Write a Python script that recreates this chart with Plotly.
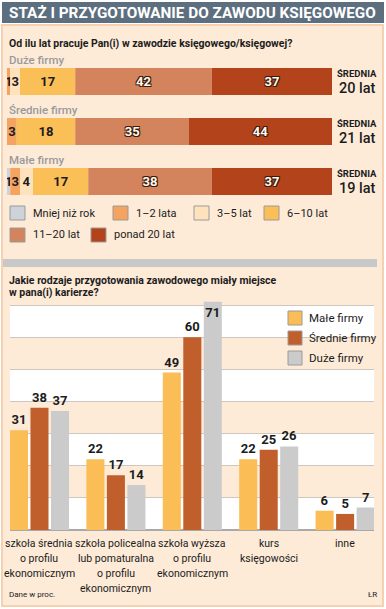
import plotly.graph_objects as go

W, H = 386, 609

# ---------------- data: top chart (stacked shares, %)
firm_rows = ["Duże firmy", "Średnie firmy", "Małe firmy"]
tenure_cats = ["Mniej niż rok", "1–2 lata", "3–5 lat", "6–10 lat", "11–20 lat", "ponad 20 lat"]
tenure_duze = [0, 1, 3, 17, 42, 37]
tenure_srednie = [0, 3, 0, 18, 35, 44]
tenure_male = [1, 3, 4, 17, 38, 37]
avg_years = [20, 21, 19]

# ---------------- data: bottom chart (%)
prep_cats = [
    "szkoła średnia<br>o profilu<br>ekonomicznym",
    "szkoła policealna<br>lub pomaturalna<br>o profilu<br>ekonomicznym",
    "szkoła wyższa<br>o profilu<br>ekonomicznym",
    "kurs<br>księgowości",
    "inne",
]
prep_series = ["Małe firmy", "Średnie firmy", "Duże firmy"]
prep_male = [31, 22, 49, 22, 6]
prep_srednie = [38, 17, 60, 25, 5]
prep_duze = [37, 14, 71, 26, 7]

# ---------------- styles
FONT = "Roboto, Liberation Sans, sans-serif"
tenure_colors = ["#cdd3d9", "#f5a360", "#fee2bd", "#fbbf58", "#d3845c", "#b3431a"]
tenure_text_dark = [True, True, True, True, False, False]
prep_colors = ["#fbbd55", "#c15f2c", "#cbcbcb"]
DARK = "#1c1c1c"
OUTLINE = "1px 1px 0 #3a1a0a, -1px -1px 0 #3a1a0a, 1px -1px 0 #3a1a0a, -1px 1px 0 #3a1a0a"


def px(x):
    return x / W


def py(y):
    return 1 - y / H


fig = go.Figure()

# ---------------- top: stacked horizontal bars with explicit bases
rows = [tenure_duze, tenure_srednie, tenure_male]
row_pos = list(range(len(firm_rows)))
cum = [0] * len(rows)
for j, cat in enumerate(tenure_cats):
    vals = [r[j] for r in rows]
    bases = list(cum)
    cum = [c + v for c, v in zip(cum, vals)]
    dark = tenure_text_dark[j]
    fig.add_trace(go.Bar(
        orientation="h", x=vals, y=row_pos, base=bases,
        width=0.54, offset=-0.27,
        marker=dict(color=tenure_colors[j], line=dict(width=0)),
        text=[str(v) if v > 0 else "" for v in vals],
        textposition="inside", insidetextanchor="middle", textangle=0,
        textfont=dict(family=FONT, size=13, weight=700,
                      color=DARK if dark else "#fff8ee",
                      shadow="none" if dark else OUTLINE),
        name=cat, showlegend=False, xaxis="x2", yaxis="y2", hoverinfo="x+name",
    ))

# ---------------- bottom: grouped vertical bars
prep_vals = [prep_male, prep_srednie, prep_duze]
xpos = list(range(len(prep_cats)))
for k, name in enumerate(prep_series):
    vals = prep_vals[k]
    tpos = ["inside" if v > 68 else "outside" for v in vals]
    fig.add_trace(go.Bar(
        x=xpos, y=vals, name=name,
        marker=dict(color=prep_colors[k], line=dict(width=0)),
        text=[str(v) for v in vals], textposition=tpos, insidetextanchor="end",
        textangle=0, cliponaxis=False,
        textfont=dict(family=FONT, size=13, weight=700, color=DARK),
        showlegend=False, xaxis="x", yaxis="y",
    ))

shapes = []
# panel and title bar
shapes.append(dict(type="rect", xref="paper", yref="paper", x0=px(2), x1=px(383), y0=py(606), y1=py(25),
                   fillcolor="#fdebd8", line=dict(color="#f5d1b1", width=2), layer="below"))
shapes.append(dict(type="rect", xref="paper", yref="paper", x0=px(2), x1=px(384), y0=py(23), y1=py(2),
                   fillcolor="#5d6f7f", line=dict(width=0), layer="below"))
# separator
shapes.append(dict(type="rect", xref="paper", yref="paper", x0=px(3), x1=px(377), y0=py(267), y1=py(259),
                   fillcolor="#c8c8c8", line=dict(width=0), layer="below"))
# white bands in bottom chart
for b in range(0, 70, 20):
    shapes.append(dict(type="rect", xref="x domain", yref="y", x0=0, x1=1, y0=b, y1=b + 10,
                       fillcolor="#ffffff", line=dict(width=0), layer="below"))

annotations = []
annotations.append(dict(text="STAŻ I PRZYGOTOWANIE DO ZAWODU KSIĘGOWEGO", xref="paper", yref="paper",
                        x=px(7), y=py(13), xanchor="left", yanchor="middle", showarrow=False,
                        font=dict(family=FONT, size=15.3, color="#ffffff", weight=700)))
annotations.append(dict(text="Od ilu lat pracuje Pan(i) w zawodzie księgowego/księgowej?", xref="paper",
                        yref="paper", x=px(7), y=py(43), xanchor="left", yanchor="middle", showarrow=False,
                        font=dict(family=FONT, size=10.5, color=DARK, weight=700)))
for i, name in enumerate(firm_rows):
    annotations.append(dict(text=name, xref="paper", yref="y2", x=px(7), y=i - 0.43, xanchor="left",
                            yanchor="middle", showarrow=False,
                            font=dict(family=FONT, size=11.5, color="#9a9a9a", weight=500)))
    annotations.append(dict(text="ŚREDNIA", xref="paper", yref="y2", x=px(357), y=i - 0.17,
                            xanchor="center", yanchor="middle", showarrow=False,
                            font=dict(family=FONT, size=9.5, color=DARK, weight=700)))
    annotations.append(dict(text=f"{avg_years[i]} lat", xref="paper", yref="y2", x=px(357), y=i + 0.14,
                            xanchor="center", yanchor="middle", showarrow=False,
                            font=dict(family=FONT, size=14.5, color=DARK, weight=500)))

# top legend (swatches + labels)
leg_pos = [(10, 213), (113, 213), (194, 213), (264, 213), (10, 235), (91, 235)]
for j, cat in enumerate(tenure_cats):
    x0, yc = leg_pos[j]
    shapes.append(dict(type="rect", xref="paper", yref="paper", x0=px(x0), x1=px(x0 + 15),
                       y0=py(yc + 7), y1=py(yc - 7), fillcolor=tenure_colors[j],
                       line=dict(color="#9a9a9a", width=1)))
    annotations.append(dict(text=cat, xref="paper", yref="paper", x=px(x0 + 21), y=py(yc),
                            xanchor="left", yanchor="middle", showarrow=False,
                            font=dict(family=FONT, size=11, color=DARK)))

annotations.append(dict(text="Jakie rodzaje przygotowania zawodowego miały miejsce", xref="paper",
                        yref="paper", x=px(7), y=py(280), xanchor="left", yanchor="middle",
                        showarrow=False, font=dict(family=FONT, size=10.5, color=DARK, weight=700)))
annotations.append(dict(text="w pana(i) karierze?", xref="paper",
                        yref="paper", x=px(7), y=py(292), xanchor="left", yanchor="middle",
                        showarrow=False, font=dict(family=FONT, size=10.5, color=DARK, weight=700)))

# bottom legend
for k, name in enumerate(prep_series):
    yc = 318 + 20 * k
    shapes.append(dict(type="rect", xref="paper", yref="paper", x0=px(288), x1=px(302),
                       y0=py(yc + 7), y1=py(yc - 7), fillcolor=prep_colors[k],
                       line=dict(color="#9a9a9a", width=1)))
    annotations.append(dict(text=name, xref="paper", yref="paper", x=px(307), y=py(yc),
                            xanchor="left", yanchor="middle", showarrow=False,
                            font=dict(family=FONT, size=11.5, color=DARK)))

# category labels under bars (one annotation per line, 15 px leading)
for i, cat in enumerate(prep_cats):
    for ln, line in enumerate(cat.split("<br>")):
        annotations.append(dict(text=line, xref="x", yref="paper", x=i, y=py(543 + 15 * ln),
                                xanchor="center", yanchor="middle", showarrow=False,
                                font=dict(family=FONT, size=10.5, color=DARK)))

annotations.append(dict(text="Dane w proc.", xref="paper", yref="paper", x=px(7), y=py(594),
                        xanchor="left", yanchor="middle", showarrow=False,
                        font=dict(family=FONT, size=8, color=DARK)))
annotations.append(dict(text="ŁR", xref="paper", yref="paper", x=px(379), y=py(594),
                        xanchor="right", yanchor="middle", showarrow=False,
                        font=dict(family=FONT, size=8, color=DARK)))

fig.update_layout(
    width=W, height=H, margin=dict(l=0, r=0, t=0, b=0),
    paper_bgcolor="#ffffff", plot_bgcolor="rgba(0,0,0,0)",
    barmode="group", bargap=0.195, bargroupgap=0.12,
    uniformtext=dict(minsize=13, mode="show"),
    showlegend=False,
    xaxis=dict(domain=[px(10), px(374)], range=[-0.386, 4.378], visible=False, anchor="y"),
    yaxis=dict(domain=[py(530), py(288.93)], range=[0, 75], tick0=0, dtick=10, showgrid=True,
               gridcolor="#cec7bf", gridwidth=1, showticklabels=False, ticks="", zeroline=True,
               zerolinecolor="#a9a9a9", zerolinewidth=1.5, showline=False, anchor="x", fixedrange=True),
    xaxis2=dict(domain=[px(7), px(332)], range=[0, 100], visible=False, anchor="y2"),
    yaxis2=dict(domain=[py(206.5), py(56.5)], range=[2.5, -0.5], visible=False, anchor="x2"),
    shapes=shapes, annotations=annotations,
    font=dict(family=FONT, color=DARK),
)

fig.write_html(
    "out.html",
    config={"displayModeBar": False},
    post_script="document.body.style.margin='0';document.body.style.padding='0';",
)
